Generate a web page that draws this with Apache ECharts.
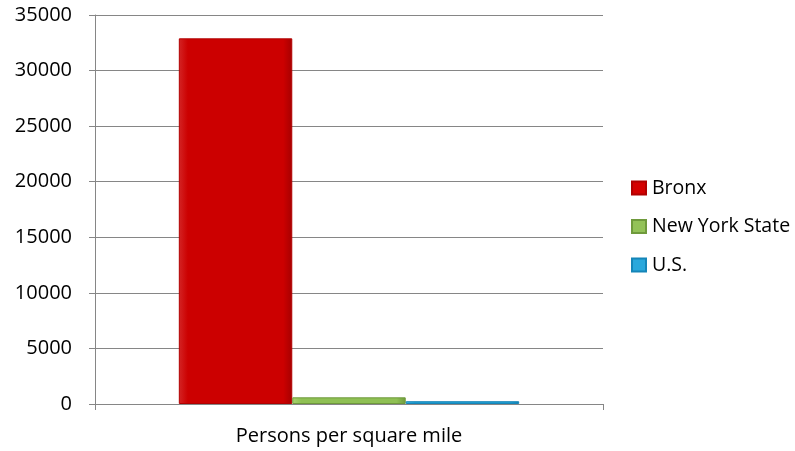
<!DOCTYPE html>
<html><head><meta charset="utf-8">
<script src="https://cdn.jsdelivr.net/npm/echarts@6/dist/echarts.min.js"></script>
<style>html,body{margin:0;padding:0;background:#fff}#c{width:795px;height:451px}</style>
</head><body><div id="c"></div>
<script>
const categories = ['Persons per square mile'];
const seriesNames = ['Bronx', 'New York State', 'U.S.'];
const bronx = [32900];
const nyState = [600];
const us = [250];
const yTicks = [0, 5000, 10000, 15000, 20000, 25000, 30000, 35000];

const FONT = 'Open Sans';
function grad(top, mid, bot) {
  return new echarts.graphic.LinearGradient(0, 0, 1, 0, [
    {offset: 0, color: top}, {offset: 0.08, color: mid}, {offset: 0.92, color: mid}, {offset: 1, color: bot}
  ]);
}
const colors = [
  {fill: grad('#d42424', '#cc0000', '#a60000'), border: '#b00000', legend: '#d40000'},
  {fill: grad('#a9d46f', '#8fc054', '#6f9a3c'), border: '#6f9a3c', legend: '#93c258'},
  {fill: grad('#3bb8e6', '#1f9fd3', '#1080b0'), border: '#1585b8', legend: '#2aa8dc'}
];
const datas = [bronx, nyState, us];

const chart = echarts.init(document.getElementById('c'));
chart.setOption({
  animation: false,
  grid: {left: 95, right: 192, top: 15, bottom: 47, containLabel: false},
  legend: {
    orient: 'vertical', left: 626, top: 173, itemGap: 18.5,
    itemWidth: 14, itemHeight: 13, icon: 'rect',
    textStyle: {fontFamily: FONT, fontSize: 19.5, lineHeight: 20, color: '#000', padding: [0, 0, 0, 1]},
    data: seriesNames.map((n, i) => ({name: n, itemStyle: {color: colors[i].legend}}))
  },
  xAxis: {
    type: 'category', data: categories,
    axisLine: {lineStyle: {color: '#868686'}},
    axisTick: {show: true, alignWithLabel: false, length: 6, lineStyle: {color: '#868686'}},
    axisLabel: {fontFamily: FONT, fontSize: 20, color: '#000', margin: 22}
  },
  yAxis: {
    type: 'value', min: 0, max: 35000, interval: 5000,
    axisLine: {show: true, lineStyle: {color: '#868686'}},
    axisTick: {show: true, length: 6, inside: false, lineStyle: {color: '#868686'}},
    splitLine: {lineStyle: {color: '#868686'}},
    axisLabel: {fontFamily: FONT, fontSize: 20, color: '#000', margin: 23,
      formatter: v => yTicks.includes(v) ? String(v) : ''}
  },
  series: seriesNames.map((n, i) => ({
    name: n, type: 'bar', data: datas[i],
    barGap: '0%', barCategoryGap: '33%',
    itemStyle: {color: colors[i].fill, borderColor: colors[i].border, borderWidth: 1}
  }))
});
</script></body></html>
